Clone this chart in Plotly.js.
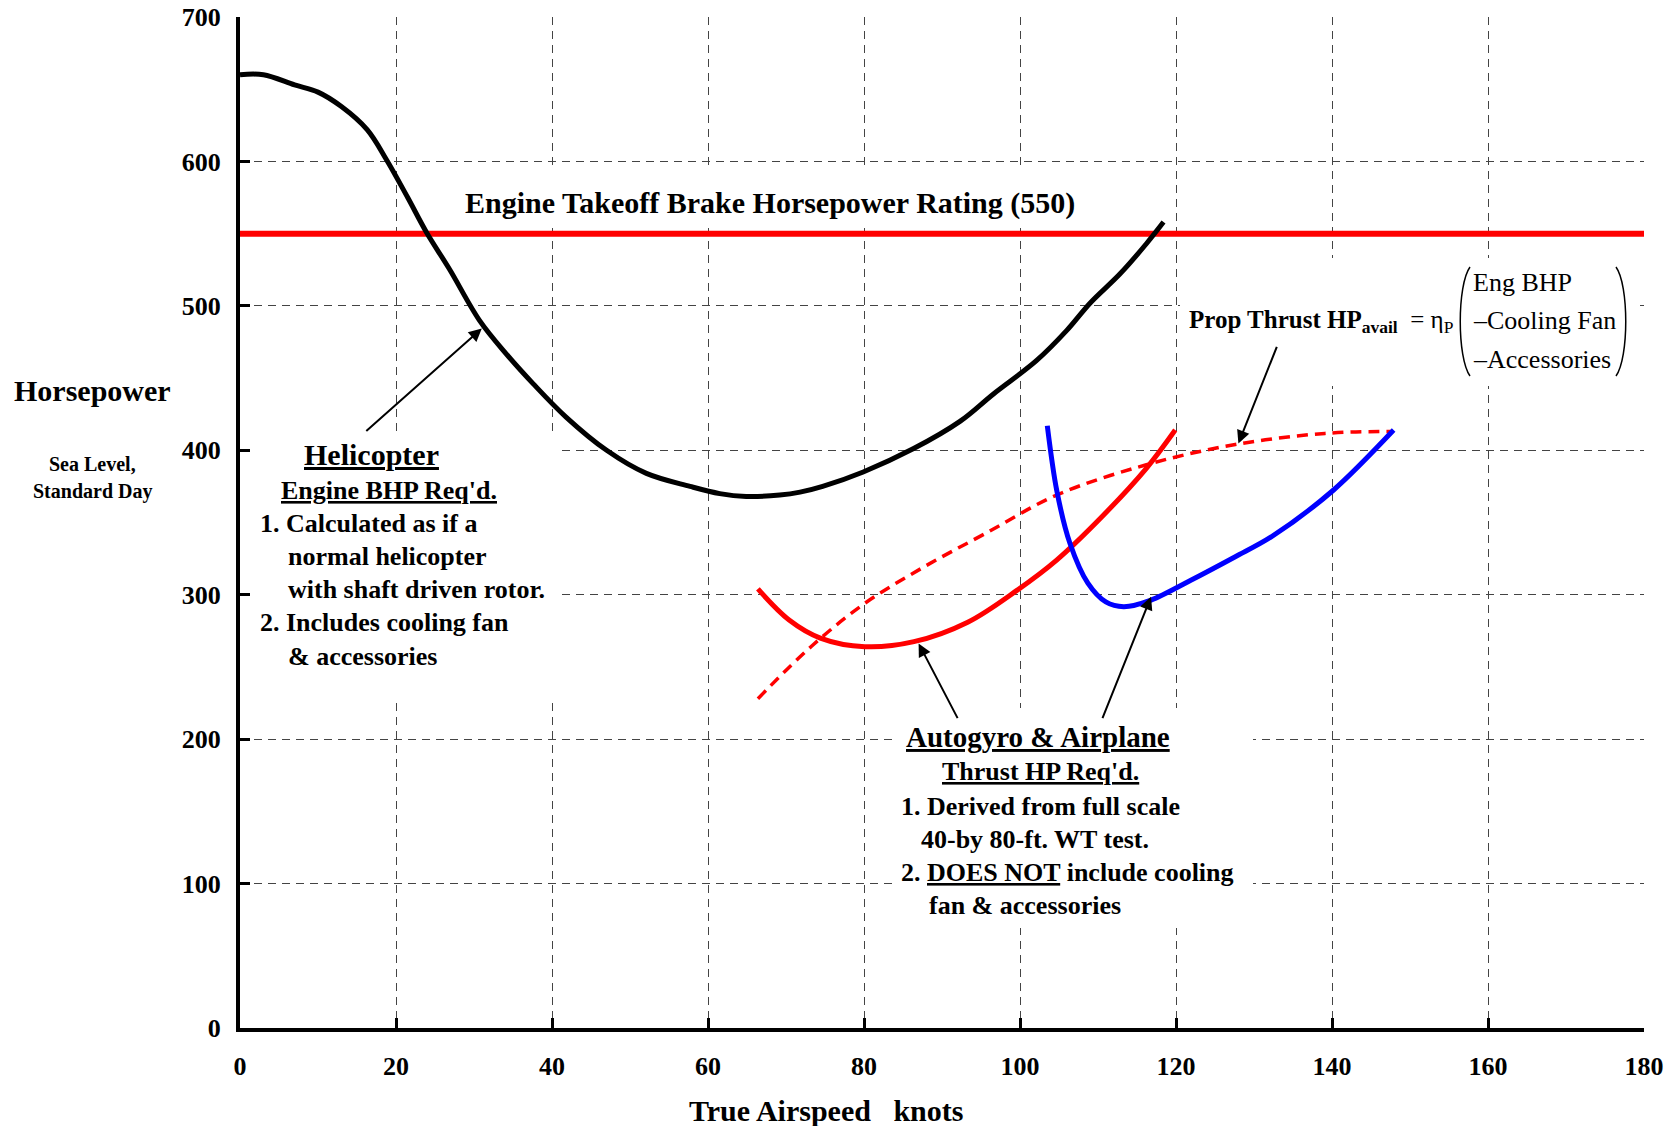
<!DOCTYPE html>
<html><head><meta charset="utf-8">
<script src="https://cdn.plot.ly/plotly-3.0.1.min.js"></script>
<style>html,body{margin:0;padding:0;background:#fff}</style>
</head><body><div id="chart" style="width:1676px;height:1126px"></div>
<script>
// ---- data ----
const helicopterKnots = [0, 3, 7, 10, 13, 16.3, 18.8, 21.5, 23.9, 26.9, 30.7, 34.1, 37.6, 41.8, 47.0, 52.1, 57.7, 61.5, 64.9, 69.2, 71.8, 74.7, 79.9, 86.3, 92.3, 96.6, 102.1, 106.0, 109.0, 112.8, 116.2, 118.4];
const helicopterHP    = [660, 660, 653, 648, 638, 622, 601, 575, 551, 525, 490, 467, 446, 423, 400, 384, 375, 370, 368, 369, 371, 375, 385, 401, 420, 439, 462, 483, 502, 522, 543, 558];

const autogyroKnots = [66.4, 70.4, 74.4, 80.1, 86.4, 93.3, 99.6, 104.7, 110.5, 116.2, 119.9];
const autogyroHP    = [304, 282.5, 270, 264, 267.5, 281, 303, 324, 354, 387.5, 414];

const propAvailKnots = [66.4, 73.2, 80.1, 87.6, 95.6, 104.7, 116.2, 127.6, 139.1, 147.7];
const propAvailHP    = [228, 264, 294, 319, 342.5, 369, 390, 404, 411.7, 413];

const airplaneKnots = [103.5, 104.7, 106.4, 108.7, 111, 113.3, 116.8, 121.9, 127.6, 132.2, 140.2, 147.9];
const airplaneHP    = [417, 372.5, 335.6, 308, 295, 291.7, 296.3, 310, 326.3, 340, 372.5, 414];

const ratingKnots = [0, 180];
const ratingHP    = [550, 550];

const xTicks = [0, 20, 40, 60, 80, 100, 120, 140, 160, 180];
const yTicks = [0, 100, 200, 300, 400, 500, 600, 700];

// ---- layout helpers (pixel -> data / paper) ----
const W = 1676, H = 1126;
const M = {l: 240, r: 32, t: 17, b: 98};
const X0 = 0, X1 = 180, Y0 = 0, Y1 = 700;
const pw = W - M.l - M.r, ph = H - M.t - M.b;
function dx(px) { return (px - M.l) / pw * (X1 - X0) + X0; }
function dy(py) { return (H - M.b - py) / ph * (Y1 - Y0) + Y0; }
function ppx(px) { return (px - M.l) / pw; }
function ppy(py) { return (H - M.b - py) / ph; }

const FONT = 'Liberation Serif, Times New Roman, serif';

function txt(px, py, text, size, xanchor, bold) {
  return {
    x: ppx(px), y: ppy(py), xref: 'paper', yref: 'paper', text: text, showarrow: false,
    xanchor: xanchor, yanchor: 'middle', align: xanchor === 'center' ? 'center' : 'left',
    font: {family: FONT, size: size, color: '#000', weight: bold === false ? 'normal' : 'bold'}
  };
}
function arrow(hx, hy, tx, ty) {
  return {
    x: hx, y: hy, ax: tx, ay: ty, xref: 'x', yref: 'y', axref: 'x', ayref: 'y',
    text: '', showarrow: true, arrowhead: 2, arrowsize: 1.3, arrowwidth: 2,
    arrowcolor: '#000', standoff: 0, startstandoff: 0
  };
}
function box(x0, y0, x1, y1) {
  return {type: 'rect', xref: 'x', yref: 'y', x0: dx(x0), x1: dx(x1), y0: dy(y0), y1: dy(y1),
    fillcolor: '#fff', line: {width: 0}, layer: 'above'};
}
function pathPx(pts) {
  return 'M ' + dx(pts[0][0]) + ',' + dy(pts[0][1]) + ' C ' +
    pts.slice(1).map(p => dx(p[0]) + ',' + dy(p[1])).join(' ');
}

const traces = [
  {x: ratingKnots, y: ratingHP, mode: 'lines', line: {color: '#ff0000', width: 6}, hoverinfo: 'skip'},
  {x: helicopterKnots, y: helicopterHP, mode: 'lines', line: {color: '#000', width: 5, shape: 'spline', smoothing: 1}},
  {x: propAvailKnots, y: propAvailHP, mode: 'lines', line: {color: '#ff0000', width: 3.5, dash: '11px,7px', shape: 'spline', smoothing: 1}},
  {x: autogyroKnots, y: autogyroHP, mode: 'lines', line: {color: '#ff0000', width: 5, shape: 'spline', smoothing: 1}},
  {x: airplaneKnots, y: airplaneHP, mode: 'lines', line: {color: '#0000ff', width: 5, shape: 'spline', smoothing: 0.9}}
];

const annotations = [
  txt(770.4, 202.5, 'Engine Takeoff Brake Horsepower Rating (550)', 30, 'center'),
  txt(92.4, 390, 'Horsepower', 30, 'center'),
  txt(92.3, 464, 'Sea Level,', 20, 'center'),
  txt(92.3, 491, 'Standard Day', 20, 'center'),
  txt(826.3, 1110, 'True Airspeed&nbsp;&nbsp;&nbsp;knots', 30, 'center'),
  // Helicopter block
  txt(371, 455, '<u>Helicopter</u>', 30, 'center'),
  txt(389, 490, "<u>Engine BHP Req'd.</u>", 26, 'center'),
  txt(258.3, 523.3, '1. Calculated as if a', 26, 'left'),
  txt(286.3, 556.7, 'normal helicopter', 26, 'left'),
  txt(286.3, 590, 'with shaft driven rotor.', 26, 'left'),
  txt(258.3, 622.7, '2. Includes cooling fan', 26, 'left'),
  txt(286.3, 656, '&amp; accessories', 26, 'left'),
  // Autogyro block
  txt(1037.5, 736.7, '<u>Autogyro &amp; Airplane</u>', 29, 'center'),
  txt(1040, 771.7, "<u>Thrust HP Req'd.</u>", 26, 'center'),
  txt(899.3, 806, '1. Derived from full scale', 26, 'left'),
  txt(919.3, 839.3, '40-by 80-ft. WT test.', 26, 'left'),
  txt(899.3, 872.7, '2. <u>DOES NOT</u> include cooling', 26, 'left'),
  txt(926.7, 905, 'fan &amp; accessories', 26, 'left'),
  // Formula
  txt(1187, 321, '<b>Prop Thrust HP<sub>avail</sub></b>&nbsp;&nbsp;= η<sub>P</sub>', 25, 'left', false),
  txt(1471, 282, 'Eng BHP', 26, 'left', false),
  txt(1471, 320.7, '–Cooling Fan', 26, 'left', false),
  txt(1471, 359, '–Accessories', 26, 'left', false),
  // arrows
  arrow(31.0, 484.4, 16.0, 412.5),
  arrow(87.0, 266.3, 92.1, 213.5),
  arrow(116.8, 298.6, 110.5, 213.5),
  arrow(128.0, 404.7, 133.0, 472.7)
];

const shapes = [
  box(452, 170, 1090, 228),
  box(250, 432, 562, 697),
  box(895, 708, 1253, 928),
  box(1180, 258, 1640, 386),
  {type: 'path', xref: 'x', yref: 'y', path: pathPx([[1470, 267], [1457, 285], [1457, 358], [1470, 376]]), line: {color: '#000', width: 1.5}, layer: 'above'},
  {type: 'path', xref: 'x', yref: 'y', path: pathPx([[1616, 267], [1629, 285], [1629, 358], [1616, 376]]), line: {color: '#000', width: 1.5}, layer: 'above'}
];

const axisCommon = {
  showline: true, linecolor: '#000', linewidth: 4, mirror: false,
  ticks: 'inside', ticklen: 10, tickwidth: 3, tickcolor: '#000',
  showgrid: true, gridcolor: '#444', gridwidth: 1, griddash: '8px,6px',
  zeroline: false,
  tickfont: {family: FONT, size: 26, color: '#000', weight: 'bold'},
  fixedrange: true
};

const layout = {
  width: W, height: H,
  margin: M,
  paper_bgcolor: '#fff', plot_bgcolor: '#fff',
  showlegend: false,
  xaxis: Object.assign({}, axisCommon, {range: [X0, X1], tickvals: xTicks, ticktext: xTicks.map(String), ticklabelstandoff: 12}),
  yaxis: Object.assign({}, axisCommon, {range: [Y0, Y1], tickvals: yTicks, ticktext: yTicks.map(String), ticklabelstandoff: 10}),
  annotations: annotations,
  shapes: shapes
};

Plotly.newPlot('chart', traces, layout, {displayModeBar: false, staticPlot: true});
</script>
</body></html>
